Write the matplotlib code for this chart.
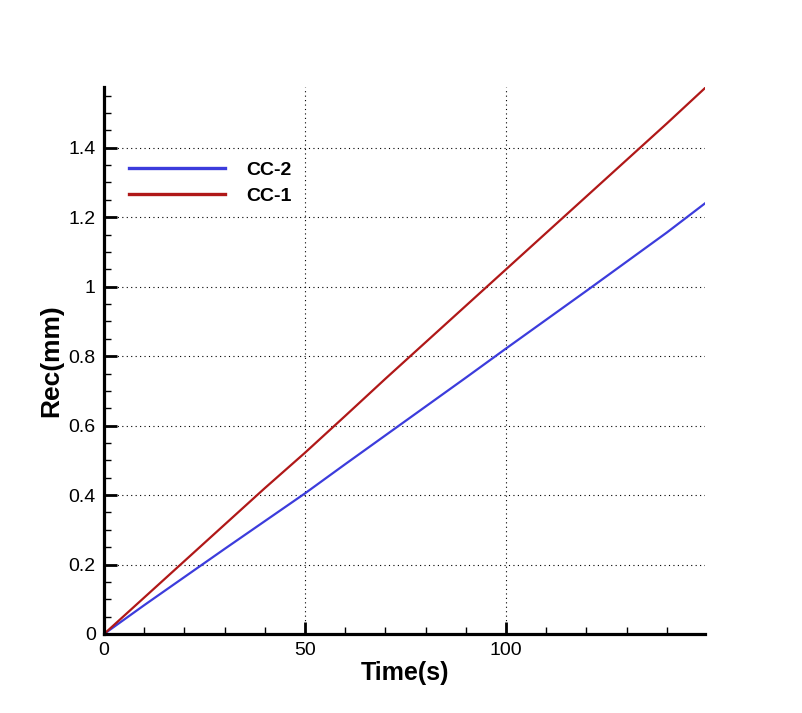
import matplotlib.pyplot as plt
from matplotlib.ticker import MultipleLocator, FuncFormatter

plt.rcParams['font.family'] = ['Liberation Sans', 'DejaVu Sans']

# data
time = [0, 10, 20, 30, 40, 50, 60, 70, 80, 90, 100, 110, 120, 130, 140, 149.5]
rec_cc2 = [0, 0.083, 0.164, 0.245, 0.325, 0.405, 0.489, 0.572, 0.655, 0.738, 0.822, 0.905, 0.988, 1.072, 1.156, 1.24]
rec_cc1 = [0, 0.105, 0.21, 0.315, 0.42, 0.522, 0.628, 0.735, 0.84, 0.945, 1.05, 1.155, 1.26, 1.365, 1.47, 1.572]

fig = plt.figure(figsize=(8.02, 7.13), dpi=100)
ax = fig.add_axes([0.1297, 0.1108, 0.7494, 0.7672])

ax.plot(time, rec_cc2, color='#3c3cdc', lw=1.6, label='CC-2')
ax.plot(time, rec_cc1, color='#b01818', lw=1.6, label='CC-1')

ax.set_xlim(0, 149.5)
ax.set_ylim(0, 1.575)

ax.xaxis.set_major_locator(MultipleLocator(50))
ax.xaxis.set_minor_locator(MultipleLocator(10))
ax.yaxis.set_major_locator(MultipleLocator(0.2))
ax.yaxis.set_minor_locator(MultipleLocator(0.05))
ax.yaxis.set_major_formatter(FuncFormatter(lambda v, p: '%g' % round(v, 2)))

ax.grid(True, which='major', color='black', linestyle=(0, (1, 3)), linewidth=0.8)
ax.spines['top'].set_visible(False)
ax.spines['right'].set_visible(False)
ax.spines['left'].set_linewidth(2.3)
ax.spines['bottom'].set_linewidth(2.3)
ax.tick_params(which='major', direction='in', length=9, width=2, labelsize=14, pad=6)
ax.tick_params(which='minor', direction='in', length=5, width=1)

ax.set_xlabel('Time(s)', fontsize=18, fontweight='bold', labelpad=1)
ax.set_ylabel('Rec(mm)', fontsize=19, fontweight='bold', labelpad=4)

leg = ax.legend(loc='upper left', bbox_to_anchor=(0.042, 0.864), frameon=False,
                borderaxespad=0, borderpad=0,
                prop={'weight': 'bold', 'size': 14}, handlelength=4.9, handletextpad=1.1,
                labelspacing=0.42)
for ln in leg.get_lines():
    ln.set_linewidth(2.4)

plt.savefig('out.png', dpi=100)
